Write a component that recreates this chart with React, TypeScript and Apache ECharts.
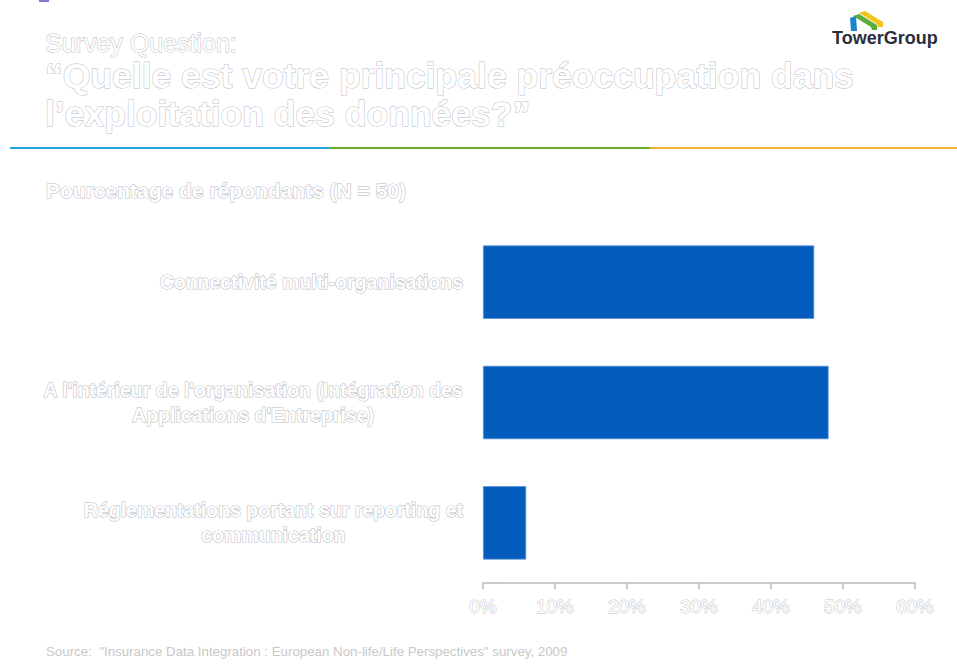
import React, { useEffect, useRef } from "react";
import * as echarts from "echarts";

const categories = [
  "Connectivité multi-organisations",
  "A l'intérieur de l'organisation (Intégration des\nApplications d'Entreprise)",
  "Réglementations portant sur reporting et\ncommunication",
];
const values = [46, 48, 6];
const xTicks = [0, 10, 20, 30, 40, 50, 60];

const surveyLabel = "Survey Question:";
const questionLines = [
  "“Quelle est votre principale préoccupation dans",
  "l’exploitation des données?”",
];
const subtitle = "Pourcentage de répondants (N = 50)";
const sourceText =
  "Source:  \"Insurance Data Integration : European Non-life/Life Perspectives\" survey, 2009";

const FONT = "'Liberation Sans', Arial, sans-serif";
const OUTLINE = "#b8bcc4";

export default function App() {
  const ref = useRef<HTMLDivElement>(null);
  useEffect(() => {
    if (!ref.current) return;
    const chart = echarts.init(ref.current, null, { renderer: "svg" });
    const labelRich = {
      c: {
        align: "center",
        fontFamily: FONT,
        fontSize: 19.5,
        fontWeight: "bold",
        color: "#ffffff",
        textBorderColor: OUTLINE,
        textBorderWidth: 1.1,
        lineHeight: 25,
      },
    };
    chart.setOption({
      animation: false,
      backgroundColor: "#ffffff",
      grid: { left: 483, right: 42, top: 222, bottom: 88, containLabel: false },
      xAxis: {
        type: "value",
        min: xTicks[0],
        max: xTicks[xTicks.length - 1],
        interval: 10,
        splitLine: { show: false },
        axisLine: { show: true, lineStyle: { color: "#bbbbbb", width: 1.5 } },
        axisTick: { show: true, length: 6, lineStyle: { color: "#bbbbbb", width: 1.5 } },
        axisLabel: {
          margin: 14,
          formatter: (v: number) => `${v}%`,
          fontFamily: FONT,
          fontSize: 19,
          color: "#ffffff",
          textBorderColor: "#c4c4c8",
          textBorderWidth: 1,
        },
      },
      yAxis: {
        type: "category",
        inverse: true,
        data: categories,
        axisLine: { show: false },
        axisTick: { show: false },
        axisLabel: {
          margin: 20,
          align: "right",
          formatter: (v: string) =>
            v
              .split("\n")
              .map((l) => `{c|${l}}`)
              .join("\n"),
          rich: labelRich,
          fontFamily: FONT,
          fontSize: 19.5,
          fontWeight: "bold",
          color: "#ffffff",
          textBorderColor: OUTLINE,
          textBorderWidth: 1.1,
          lineHeight: 25,
        },
      },
      series: [
        {
          type: "bar",
          data: values,
          barWidth: "61%",
          itemStyle: { color: "#045cbc", borderColor: "#5a93d6", borderWidth: 0.8 },
        },
      ],
      graphic: [
        { type: "rect", shape: { x: 39, y: 0, width: 10, height: 2 }, style: { fill: "#7b7bd6" } },
        {
          type: "text",
          x: 45,
          y: 43,
          style: {
            text: surveyLabel,
            fill: "#ffffff",
            stroke: OUTLINE,
            lineWidth: 1,
            font: `25px ${FONT}`,
            textVerticalAlign: "middle",
          },
        },
        {
          type: "text",
          x: 45,
          y: 95,
          style: {
            text: questionLines.join("\n"),
            fill: "#ffffff",
            stroke: OUTLINE,
            lineWidth: 1,
            font: `bold 35.5px ${FONT}`,
            lineHeight: 38,
            textVerticalAlign: "middle",
          },
        },
        { type: "rect", shape: { x: 10, y: 147, width: 320, height: 2 }, style: { fill: "#1ea3dd" } },
        { type: "rect", shape: { x: 330, y: 147, width: 320, height: 2 }, style: { fill: "#6aab30" } },
        { type: "rect", shape: { x: 650, y: 147, width: 307, height: 2 }, style: { fill: "#f0b22a" } },
        {
          type: "text",
          x: 46,
          y: 190,
          style: {
            text: subtitle,
            fill: "#ffffff",
            stroke: OUTLINE,
            lineWidth: 1.1,
            font: `bold 21px ${FONT}`,
            textVerticalAlign: "middle",
          },
        },
        {
          type: "text",
          x: 46,
          y: 651,
          style: {
            text: sourceText,
            fill: "#c8c8c8",
            font: `13.3px ${FONT}`,
            textVerticalAlign: "middle",
          },
        },
        // logo
        {
          type: "polygon",
          shape: { points: [[859, 13], [865, 11], [883, 22], [883, 27], [878, 27], [877, 24]] },
          style: { fill: "#f5c21b" },
        },
        {
          type: "polygon",
          shape: { points: [[853, 16], [859, 14], [877, 25], [877, 30], [872, 30], [871, 27]] },
          style: { fill: "#5cae3a" },
        },
        {
          type: "polygon",
          shape: { points: [[850, 18], [856, 16], [857, 31], [851, 31]] },
          style: { fill: "#1a86d0" },
        },
        {
          type: "text",
          x: 832,
          y: 38,
          style: {
            text: "TowerGroup",
            fill: "#2b2e3c",
            font: `bold 18px ${FONT}`,
            textVerticalAlign: "middle",
          },
        },
      ],
    });
    return () => chart.dispose();
  }, []);
  return (
    <div
      ref={ref}
      style={{ position: "fixed", left: 0, top: 0, width: 957, height: 671 }}
    />
  );
}
